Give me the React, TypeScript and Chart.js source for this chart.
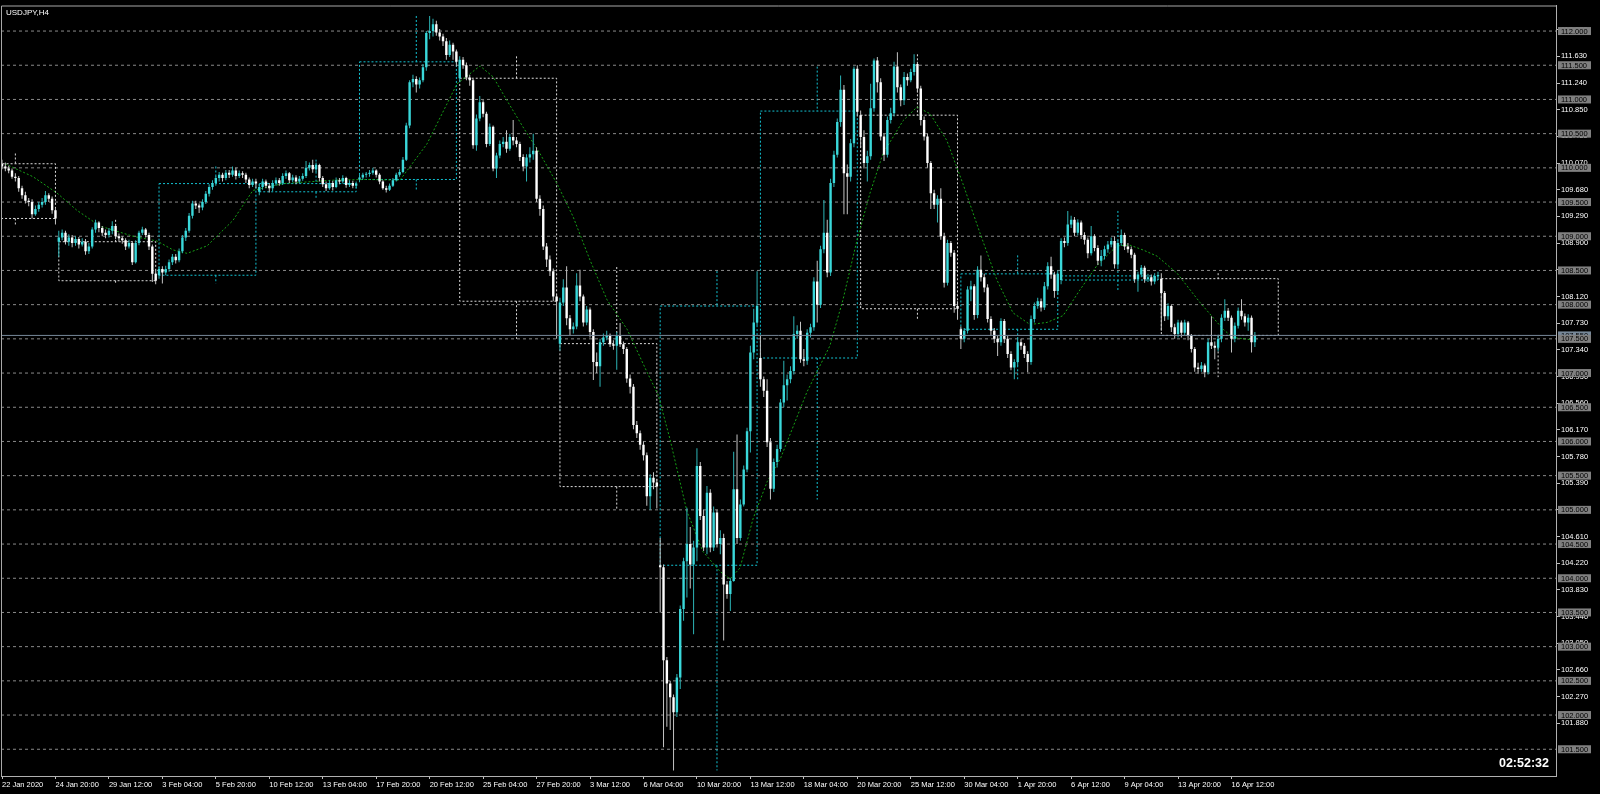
import { useEffect, useRef } from "react";
import { Chart, registerables } from "chart.js";

Chart.register(...registerables);

const chartTitle = "USDJPY,H4";
const barTimer = "02:52:32";

const timeLabels = ["22 Jan 2020", "24 Jan 20:00", "29 Jan 12:00", "3 Feb 04:00", "5 Feb 20:00", "10 Feb 12:00", "13 Feb 04:00", "17 Feb 20:00", "20 Feb 12:00", "25 Feb 04:00", "27 Feb 20:00", "3 Mar 12:00", "6 Mar 04:00", "10 Mar 20:00", "13 Mar 12:00", "18 Mar 04:00", "20 Mar 20:00", "25 Mar 12:00", "30 Mar 04:00", "1 Apr 20:00", "6 Apr 12:00", "9 Apr 04:00", "13 Apr 20:00", "16 Apr 12:00"];
const timeLabelBars = [0, 16, 32, 48, 64, 80, 96, 112, 128, 144, 160, 176, 192, 208, 224, 240, 256, 272, 288, 304, 320, 336, 352, 368];

const priceTicks = [101.88, 102.27, 102.66, 103.05, 103.44, 103.83, 104.22, 104.61, 105.0, 105.39, 105.78, 106.17, 106.56, 106.95, 107.34, 107.73, 108.12, 108.51, 108.9, 109.29, 109.68, 110.07, 110.46, 110.85, 111.24, 111.63, 112.02];
const levelPrices = [101.5, 102.0, 102.5, 103.0, 103.5, 104.0, 104.5, 105.0, 105.5, 106.0, 106.5, 107.0, 107.5, 108.0, 108.5, 109.0, 109.5, 110.0, 110.5, 111.0, 111.5, 112.0];

const firstOpen = 110.06;

const closes = [
  110.02,109.99,109.96,109.87,109.85,109.70,109.60,109.52,109.50,109.32,109.40,109.46,109.50,109.60,109.55,109.38,109.26,
  108.98,109.05,108.92,108.98,108.90,108.96,108.88,108.92,108.78,108.85,109.10,109.20,109.12,109.05,109.02,109.08,109.15,109.00,108.97,108.94,108.85,108.90,108.62,108.90,109.05,109.10,109.02,108.85,108.45,108.35,
  108.52,108.47,108.52,108.62,108.70,108.65,108.78,108.98,109.08,109.30,109.48,109.45,109.42,109.50,109.62,109.72,109.78,109.85,109.90,109.85,109.93,109.90,109.96,109.88,109.92,109.90,109.83,109.75,109.80,109.77,
  109.72,109.80,109.74,109.70,109.78,109.82,109.78,109.88,109.92,109.82,109.86,109.80,109.84,109.88,110.00,110.04,109.98,110.04,109.85,109.76,109.70,109.78,109.72,109.82,109.80,109.85,109.75,109.78,109.74,109.77,
  109.86,109.90,109.91,109.93,109.96,109.90,109.80,109.70,109.68,109.74,109.82,109.90,109.94,110.12,110.62,111.25,111.30,111.22,111.28,111.47,111.97,112.00,112.10,111.98,111.92,111.85,111.65,111.80,111.70,111.55,
  111.58,111.50,111.32,111.28,110.33,110.72,110.96,110.79,110.35,110.60,109.99,110.18,110.35,110.38,110.28,110.45,110.40,110.35,110.16,110.02,110.15,110.20,110.25,109.55,109.40,108.85,108.66,108.49,108.12,108.05,
  108.03,108.25,107.80,107.64,107.68,108.28,108.12,107.74,107.93,107.60,107.16,107.10,107.45,107.52,107.55,107.42,107.40,107.54,107.42,107.35,106.92,106.80,106.24,106.12,105.95,105.80,105.20,105.47,105.40,105.34,
  104.16,102.80,102.46,102.26,102.04,102.55,103.55,104.25,104.50,104.20,104.45,105.64,104.91,104.45,105.25,104.45,104.96,104.50,104.59,103.91,103.77,103.96,105.30,104.59,105.08,105.59,106.15,107.30,107.74,107.98,
  106.91,106.74,105.99,105.31,105.70,105.89,106.57,106.82,106.91,107.03,107.57,107.62,107.20,107.18,107.59,107.67,108.34,108.00,108.81,109.05,108.47,109.78,110.19,110.67,111.14,109.92,109.87,110.36,111.45,110.82,
  110.45,110.07,110.17,110.87,111.57,111.25,110.46,110.19,110.70,110.80,111.48,111.18,110.99,111.33,111.28,111.40,111.52,111.16,110.70,110.46,110.07,109.63,109.46,109.55,109.00,108.32,108.90,108.76,107.98,107.94,
  107.50,107.62,108.22,108.27,107.85,108.51,108.40,108.25,107.79,107.62,107.50,107.45,107.76,107.50,107.28,107.08,107.16,107.45,107.40,107.28,107.16,107.79,107.98,108.05,107.96,108.27,108.56,108.44,108.20,108.45,
  108.93,108.90,109.17,109.24,109.05,109.20,109.02,108.95,108.75,109.00,108.83,108.64,108.71,108.81,108.88,108.93,108.59,108.90,109.02,108.85,108.81,108.73,108.37,108.44,108.54,108.37,108.40,108.34,108.42,108.42,
  108.17,107.83,107.98,107.67,107.57,107.74,107.59,107.74,107.54,107.35,107.08,107.06,107.11,107.01,107.45,107.40,107.37,107.50,107.81,107.91,107.81,107.50,107.69,107.91,107.83,107.74,107.81,107.45,107.55,
];

const highs = [
  110.12,110.08,110.03,109.99,109.92,109.88,109.74,109.65,109.56,109.54,109.45,109.50,109.56,109.66,109.63,109.58,109.40,
  109.08,109.10,109.08,109.03,109.02,109.00,108.99,108.97,108.96,108.90,109.13,109.24,109.22,109.15,109.10,109.12,109.22,109.18,109.04,109.00,108.97,108.95,108.92,108.94,109.08,109.14,109.12,109.05,108.88,108.50,
  108.56,108.56,108.57,108.66,108.74,108.74,108.82,109.02,109.12,109.34,109.52,109.52,109.48,109.54,109.66,109.76,109.82,109.88,109.94,109.93,109.97,109.97,110.02,110.00,109.96,109.95,109.93,109.86,109.84,109.84,
  109.76,109.84,109.83,109.78,109.82,109.86,109.85,109.92,109.96,109.94,109.90,109.89,109.88,109.92,110.10,110.08,110.12,110.08,110.06,109.88,109.80,109.82,109.81,109.86,109.85,109.89,109.87,109.82,109.81,109.80,
  109.90,109.93,109.94,109.97,110.00,109.98,109.92,109.82,109.74,109.77,109.85,109.93,109.98,110.16,110.66,111.28,111.36,111.34,111.32,111.52,112.00,112.22,112.18,112.15,112.03,111.96,111.90,111.86,111.83,111.73,
  111.63,111.62,111.54,111.36,111.30,110.78,111.05,110.99,110.82,110.65,110.62,110.22,110.40,110.45,110.55,110.50,110.70,110.45,110.38,110.20,110.20,110.30,110.50,110.30,109.60,109.45,108.90,108.72,108.53,108.15,
  108.10,108.37,108.56,107.85,107.74,108.46,108.51,108.15,107.98,107.96,107.64,107.30,107.50,107.58,107.62,107.58,107.48,107.60,107.73,107.46,107.38,106.98,106.84,106.30,106.16,106.00,105.84,105.52,105.55,105.45,
  104.59,104.20,102.85,102.50,102.30,102.60,103.60,104.30,105.03,104.75,104.55,105.90,105.70,105.00,105.35,105.30,105.05,105.00,104.70,104.65,103.96,104.00,105.85,106.10,105.15,105.65,106.20,107.40,107.94,108.49,
  107.54,106.95,106.91,106.05,105.75,105.95,106.62,107.18,106.98,107.10,107.83,107.70,107.75,107.35,107.64,107.72,108.40,108.64,108.86,109.53,109.24,109.84,110.25,110.72,111.35,111.21,110.05,110.42,111.48,111.50,
  110.84,110.55,110.25,111.23,111.60,111.62,111.31,110.50,110.75,110.88,111.55,111.69,111.22,111.40,111.38,111.45,111.66,111.55,111.20,110.75,110.50,110.10,109.68,109.60,109.70,109.05,108.95,108.93,108.80,108.05,
  107.68,107.66,108.27,108.35,108.30,108.56,108.72,108.45,108.30,107.83,107.66,107.55,107.80,107.79,107.54,107.32,107.20,107.52,107.50,107.44,107.32,107.84,108.03,108.10,108.09,108.33,108.62,108.70,108.48,108.50,
  108.97,108.98,109.37,109.30,109.28,109.25,109.23,109.06,108.98,109.15,109.03,108.87,108.80,108.86,108.93,108.98,109.00,108.94,109.10,109.05,108.90,108.85,108.76,108.48,108.58,108.57,108.45,108.44,108.46,108.48,
  108.46,108.20,108.02,108.00,107.72,107.78,107.77,107.78,107.76,107.57,107.38,107.15,107.16,107.14,107.50,107.83,107.46,107.56,107.86,108.08,107.95,107.84,107.74,107.96,108.08,107.87,107.86,107.84,107.60,
];

const lows = [
  109.98,109.95,109.92,109.84,109.80,109.65,109.55,109.48,109.44,109.26,109.30,109.36,109.42,109.46,109.50,109.33,109.17,
  108.70,108.94,108.88,108.86,108.84,108.86,108.82,108.85,108.73,108.74,108.82,109.05,109.06,109.00,108.97,108.98,109.03,108.96,108.92,108.89,108.80,108.82,108.58,108.60,108.87,109.02,108.98,108.80,108.33,108.30,
  108.38,108.31,108.43,108.48,108.58,108.60,108.62,108.75,108.93,109.05,109.26,109.40,109.34,109.38,109.47,109.58,109.68,109.74,109.80,109.80,109.82,109.85,109.87,109.83,109.85,109.85,109.78,109.70,109.72,109.70,
  109.60,109.68,109.70,109.64,109.66,109.74,109.74,109.75,109.84,109.78,109.79,109.76,109.77,109.81,109.85,109.96,109.93,109.94,109.80,109.72,109.66,109.68,109.67,109.70,109.76,109.77,109.71,109.72,109.70,109.70,
  109.79,109.83,109.86,109.87,109.90,109.86,109.76,109.68,109.64,109.66,109.72,109.80,109.87,109.92,110.10,110.58,111.18,111.10,111.16,111.25,111.42,111.88,111.92,111.93,111.86,111.78,111.58,111.62,111.58,111.48,
  111.25,111.45,111.28,111.20,110.28,110.25,110.68,110.74,110.30,110.32,109.95,109.85,110.14,110.30,110.22,110.25,110.33,110.30,110.10,109.95,109.80,110.08,110.12,109.50,109.30,108.80,108.55,108.42,108.05,107.50,
  107.33,107.98,107.70,107.55,107.58,107.64,108.05,107.68,107.70,107.52,106.90,107.00,106.80,107.40,107.48,107.38,107.34,107.05,107.38,107.28,106.86,106.70,106.18,106.05,105.88,105.72,105.06,105.00,105.30,105.02,
  103.50,101.53,101.83,101.78,101.19,101.97,102.38,103.38,103.72,103.85,103.18,104.25,104.85,104.40,104.35,104.38,104.40,104.45,104.35,103.09,103.70,103.52,103.95,104.50,104.55,105.05,105.55,105.84,107.20,107.70,
  106.80,106.65,105.92,105.15,105.26,105.62,105.85,106.50,106.60,106.85,106.98,107.50,107.15,107.10,107.12,107.52,107.62,107.74,107.95,108.75,108.40,108.42,109.72,110.15,110.60,109.32,109.32,109.80,110.30,110.75,
  110.30,109.99,109.80,110.12,110.82,111.10,110.40,110.10,110.15,110.65,110.75,111.10,110.90,110.92,111.20,111.25,111.35,111.10,110.62,110.40,110.00,109.40,109.40,109.20,108.95,108.25,108.28,108.70,107.88,107.78,
  107.35,107.45,107.58,108.05,107.78,107.80,108.34,108.18,107.74,107.55,107.44,107.25,107.40,107.44,107.22,107.04,106.91,107.10,107.34,107.22,107.01,107.12,107.74,107.94,107.90,107.92,108.22,108.38,108.10,108.15,
  108.30,108.84,108.86,109.12,109.00,109.01,108.96,108.88,108.68,108.72,108.78,108.58,108.56,108.66,108.76,108.84,108.53,108.55,108.86,108.80,108.76,108.68,108.32,108.19,108.40,108.32,108.33,108.28,108.30,108.36,
  107.62,107.76,107.78,107.60,107.50,107.52,107.52,107.55,107.48,107.30,107.02,106.99,107.02,106.94,106.98,107.35,107.20,107.32,107.45,107.76,107.76,107.30,107.45,107.65,107.78,107.68,107.62,107.30,107.38,
];

const weekStart = [-13, 17, 47, 77, 107, 137, 167, 197, 227, 257, 287, 317, 347];
const weekEnd = [16, 46, 76, 106, 136, 166, 196, 226, 256, 286, 316, 346, 382];
const weekOpen = [110.06, 108.92, 108.43, 109.65, 109.83, 111.31, 107.43, 104.19, 107.22, 110.77, 107.64, 108.36, 108.38];
const weekClose = [109.26, 108.35, 109.77, 109.77, 111.55, 108.05, 105.34, 107.98, 110.83, 107.94, 108.45, 108.42, 107.55];
const weekHigh = [110.21, 109.24, 110.02, 110.12, 112.22, 111.63, 108.55, 108.49, 111.48, 111.66, 108.72, 109.37, 108.46];
const weekLow = [109.17, 108.30, 108.31, 109.56, 109.66, 107.50, 105.0, 101.19, 105.15, 107.78, 106.91, 108.19, 106.94];
const weekWickBar = [4, 34, 64, 94, 124, 154, 184, 214, 244, 274, 304, 334, 364];

const avgBars = [0.9, 9.3, 16.5, 22.4, 29.3, 39.2, 46.4, 51.2, 55.4, 61.4, 69.1, 75.1, 84.1, 99.1, 109.2, 119.1, 127.2, 136.2, 143.1, 147.0, 151.2, 155.9, 161.0, 166.1, 170.9, 176.0, 181.1, 187.1, 193.1, 196.4, 199.9, 205.0, 209.8, 214.9, 217.9, 220.9, 224.8, 229.0, 233.0, 240.9, 247.8, 251.7, 255.9, 259.8, 263.7, 269.7, 273.9, 277.8, 282.8, 287.6, 292.7, 297.8, 302.6, 307.7, 312.8, 317.6, 322.7, 327.7, 333.7, 337.6, 341.5, 345.7, 351.7, 358.6, 365.5, 368.4, 373.5];
const avgPrices = [110.06, 109.87, 109.63, 109.38, 109.15, 109.00, 108.93, 108.80, 108.75, 108.86, 109.23, 109.67, 109.77, 109.82, 109.83, 109.82, 110.35, 111.23, 111.49, 111.33, 110.98, 110.60, 110.21, 109.77, 109.29, 108.65, 108.07, 107.64, 107.01, 106.68, 106.04, 104.98, 104.39, 104.10, 103.99, 104.15, 104.87, 105.41, 105.75, 106.72, 107.40, 108.07, 108.94, 109.63, 110.21, 110.69, 110.89, 110.79, 110.40, 109.77, 109.05, 108.36, 107.88, 107.71, 107.74, 107.84, 108.22, 108.57, 108.86, 108.87, 108.80, 108.71, 108.46, 108.03, 107.64, 107.52, 107.49];

const X_MIN = -0.3;
const X_MAX = 465.13;
const Y_MIN = 101.109;
const Y_MAX = 112.3735;

const BULL = "#3ad8da";
const BULL_WICK = "#2cb4b6";
const BEAR = "#ffffff";
const BEAR_WICK = "#c4c4c4";
const BOX_BULL = "#12c2d2";
const BOX_BEAR = "#dcdcdc";
const FONT = "'Liberation Sans', Arial, sans-serif";

export default function App() {
  const ref = useRef<HTMLCanvasElement | null>(null);

  useEffect(() => {
    document.body.style.margin = "0";
    document.body.style.background = "#000";
    const n = Math.min(closes.length, highs.length, lows.length);
    const opens: number[] = [];
    for (let i = 0; i < n; i++) {
      const w = weekStart.indexOf(i);
      opens.push(i === 0 ? firstOpen : w >= 0 ? weekOpen[w] : closes[i - 1]);
    }
    const bull = opens.map((o, i) => closes[i] >= o);
    const wickData = opens.map((_, i) => ({ x: i, y: [lows[i], highs[i]] }));
    const bodyData = opens.map((o, i) => ({ x: i, y: [Math.min(o, closes[i]), Math.max(o, closes[i])] }));

    const boxPts = (wantBull: boolean) => {
      const pts: any[] = [];
      weekStart.forEach((s, w) => {
        const o = weekOpen[w], c = weekClose[w];
        if ((c >= o) !== wantBull) return;
        const top = Math.max(o, c), bot = Math.min(o, c), e = weekEnd[w], m = weekWickBar[w];
        pts.push({ x: s, y: top }, { x: e, y: top }, { x: e, y: bot }, { x: s, y: bot }, { x: s, y: top }, { x: s, y: null });
        pts.push({ x: m, y: weekHigh[w] }, { x: m, y: top }, { x: m, y: null });
        pts.push({ x: m, y: bot }, { x: m, y: weekLow[w] }, { x: m, y: null });
      });
      return pts;
    };

    const levelPts: any[] = [];
    levelPrices.forEach((p) => {
      levelPts.push({ x: X_MIN, y: p }, { x: X_MAX, y: p }, { x: X_MAX, y: null });
    });
    const lastPrice = closes[n - 1];

    const decor = {
      id: "mtDecor",
      beforeDraw(chart: any) {
        const { ctx, width, height } = chart;
        ctx.save();
        ctx.fillStyle = "#000000";
        ctx.fillRect(0, 0, width, height);
        ctx.restore();
      },
      afterDraw(chart: any) {
        const { ctx, chartArea: a, scales } = chart;
        const ys = scales.y;
        ctx.save();
        ctx.strokeStyle = "#a8a8a8";
        ctx.lineWidth = 1;
        ctx.beginPath();
        ctx.moveTo(a.left + 0.5, a.bottom);
        ctx.lineTo(a.left + 0.5, a.top + 0.5);
        ctx.lineTo(a.right, a.top + 0.5);
        ctx.stroke();

        ctx.font = `7.5px ${FONT}`;
        ctx.textBaseline = "middle";
        ctx.textAlign = "left";
        const drawBox = (p: number, fill: string) => {
          const py = ys.getPixelForValue(p);
          ctx.fillStyle = fill;
          ctx.fillRect(a.right + 2, py - 4, 33, 8);
          ctx.fillStyle = "#000000";
          ctx.fillText(p.toFixed(3), a.right + 5, py + 0.5);
        };
        drawBox(lastPrice, "#778899");
        levelPrices.forEach((p) => drawBox(p, "#808080"));

        ctx.fillStyle = "#ffffff";
        ctx.font = `8px ${FONT}`;
        ctx.fillText(chartTitle, a.left + 5, a.top + 7);
        ctx.font = `bold 12.5px ${FONT}`;
        ctx.textAlign = "right";
        ctx.fillText(barTimer, a.right - 7, a.bottom - 12);
        ctx.restore();
      },
    };

    const chart = new Chart(ref.current as HTMLCanvasElement, {
      type: "bar",
      data: {
        datasets: [
          {
            type: "line",
            data: levelPts,
            borderColor: "#8a8a8a",
            borderWidth: 1,
            borderDash: [3, 3],
            pointRadius: 0,
            spanGaps: false,
            order: 10,
          } as any,
          {
            type: "line",
            data: boxPts(true),
            borderColor: BOX_BULL,
            borderWidth: 1,
            borderDash: [2, 2],
            pointRadius: 0,
            spanGaps: false,
            order: 9,
          } as any,
          {
            type: "line",
            data: boxPts(false),
            borderColor: BOX_BEAR,
            borderWidth: 1,
            borderDash: [2, 2],
            pointRadius: 0,
            spanGaps: false,
            order: 9,
          } as any,
          {
            type: "line",
            data: avgBars.map((b, i) => ({ x: b, y: avgPrices[i] })),
            borderColor: "#16a016",
            borderWidth: 1,
            borderDash: [2, 2],
            pointRadius: 0,
            tension: 0,
            order: 8,
          } as any,
          {
            type: "bar",
            data: wickData,
            backgroundColor: bull.map((b) => (b ? BULL_WICK : BEAR_WICK)),
            barThickness: 1,
            grouped: false,
            borderWidth: 0,
            inflateAmount: 0,
            order: 3,
          } as any,
          {
            type: "bar",
            data: bodyData,
            backgroundColor: bull.map((b) => (b ? BULL : BEAR)),
            barThickness: 2.4,
            grouped: false,
            borderWidth: 0,
            inflateAmount: 0,
            minBarLength: 1,
            order: 2,
          } as any,
          {
            type: "line",
            data: [{ x: X_MIN, y: lastPrice }, { x: X_MAX, y: lastPrice }],
            borderColor: "#778899",
            borderWidth: 1,
            pointRadius: 0,
            order: 1,
          } as any,
        ],
      },
      options: {
        responsive: false,
        animation: false,
        devicePixelRatio: 1,
        events: [],
        layout: { padding: { left: 1, top: 1, right: 0, bottom: 0 } },
        plugins: {
          legend: { display: false },
          tooltip: { enabled: false },
          title: { display: false },
        },
        scales: {
          x: {
            type: "linear",
            position: "bottom",
            min: X_MIN,
            max: X_MAX,
            offset: false,
            bounds: "data",
            afterFit: (s: any) => {
              s.height = 18;
            },
            afterBuildTicks: (s: any) => {
              s.ticks = timeLabelBars.map((v) => ({ value: v }));
            },
            ticks: {
              autoSkip: false,
              maxRotation: 0,
              minRotation: 0,
              align: "start",
              color: "#ffffff",
              padding: 1,
              font: { family: FONT, size: 7.5 },
              callback: (v: any) => {
                const k = timeLabelBars.indexOf(Number(v));
                return k >= 0 ? timeLabels[k] : "";
              },
            },
            grid: { display: true, drawOnChartArea: false, drawTicks: true, tickLength: 3, color: "#c0c0c0", offset: false },
            border: { display: true, color: "#b0b0b0", width: 1 },
          },
          y: {
            type: "linear",
            position: "right",
            min: Y_MIN,
            max: Y_MAX,
            bounds: "data",
            beginAtZero: false,
            afterFit: (s: any) => {
              s.width = 44;
            },
            afterBuildTicks: (s: any) => {
              s.ticks = priceTicks.map((v) => ({ value: v }));
            },
            ticks: {
              color: "#ffffff",
              padding: 1,
              font: { family: FONT, size: 7.5 },
              callback: (v: any) => Number(v).toFixed(3),
            },
            grid: { display: true, drawOnChartArea: false, drawTicks: true, tickLength: 4, color: "#c0c0c0" },
            border: { display: true, color: "#b0b0b0", width: 1 },
          },
        },
      } as any,
      plugins: [decor],
    });
    return () => chart.destroy();
  }, []);

  return (
    <canvas
      ref={ref}
      width={1600}
      height={794}
      style={{ display: "block", position: "fixed", left: 0, top: 0, width: 1600, height: 794 }}
    />
  );
}
